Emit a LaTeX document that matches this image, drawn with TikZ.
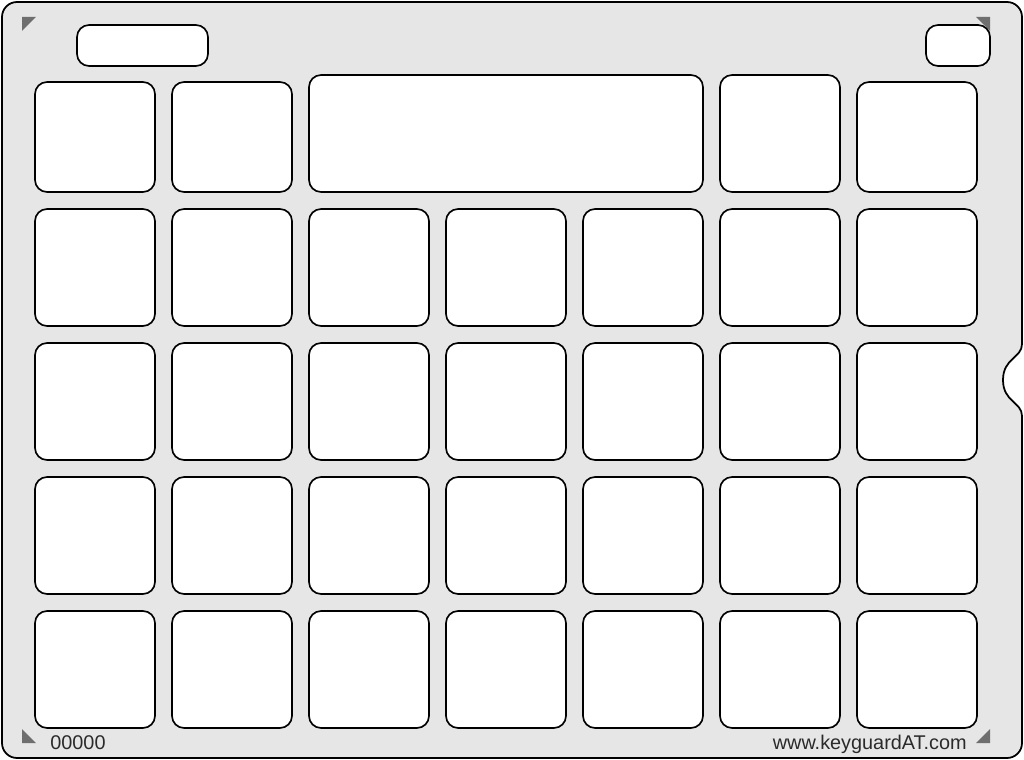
\documentclass[tikz,border=0pt]{standalone}
\usepackage{fontspec}
\setmainfont{Liberation Sans}
\definecolor{plate}{HTML}{E6E6E6}
\definecolor{tri}{HTML}{6E6E6E}
\definecolor{ink}{HTML}{2A2A2A}
\tikzset{
  keybox/.style={draw=black, fill=white, line width=0.95pt, rounded corners=0.24cm,
    minimum width=2.4cm, minimum height=2.34cm, inner sep=0pt},
  slot/.style={keybox, minimum height=0.82cm},
  label/.style={text=ink, font=\fontsize{11.3}{13}\selectfont, inner sep=0pt}
}
\begin{document}
\begin{tikzpicture}[x=0.02cm, y=-0.02cm]
  \useasboundingbox (0,0) rectangle (1024,760);
  % plate
  \draw[fill=plate, line width=1pt]
    (17,2) -- (1007,2) .. controls (1015.3,2) and (1022,8.7) .. (1022,17)
    -- (1022,344)
    .. controls (1022,358) and (1003,358) .. (1003,380)
    .. controls (1003,402) and (1022,402) .. (1022,416)
    -- (1022,743) .. controls (1022,751.3) and (1015.3,758) .. (1007,758)
    -- (17,758) .. controls (8.7,758) and (2,751.3) .. (2,743)
    -- (2,17) .. controls (2,8.7) and (8.7,2) .. (17,2) -- cycle;
  % corner marks
  \fill[tri] (22,17) -- (36,17) -- (22,31) -- cycle;
  \fill[tri] (976,17) -- (990,17) -- (990,31) -- cycle;
  \fill[tri] (22,729) -- (36,743) -- (22,743) -- cycle;
  \fill[tri] (990,729) -- (990,743) -- (976,743) -- cycle;
  % top slots
  \node[slot, minimum width=2.62cm] (sl) at (142.5,45.5) {};
  \node[slot, minimum width=1.28cm] (sr) at (958,45.5) {};
  % row 1
  \node[keybox, minimum height=2.2cm] (a1) at (95,137) {};
  \node[keybox, minimum height=2.2cm] (a2) at (232,137) {};
  \node[keybox, minimum width=7.88cm] (a3) at (506,133.5) {};
  \node[keybox] (a6) at (780,133.5) {};
  \node[keybox, minimum height=2.2cm] (a7) at (917,137) {};
  % row 2
  \node[keybox] (b1) at (95,267.5) {};
  \node[keybox] (b2) at (232,267.5) {};
  \node[keybox] (b3) at (369,267.5) {};
  \node[keybox] (b4) at (506,267.5) {};
  \node[keybox] (b5) at (643,267.5) {};
  \node[keybox] (b6) at (780,267.5) {};
  \node[keybox] (b7) at (917,267.5) {};
  % row 3
  \node[keybox] (c1) at (95,401.5) {};
  \node[keybox] (c2) at (232,401.5) {};
  \node[keybox] (c3) at (369,401.5) {};
  \node[keybox] (c4) at (506,401.5) {};
  \node[keybox] (c5) at (643,401.5) {};
  \node[keybox] (c6) at (780,401.5) {};
  \node[keybox] (c7) at (917,401.5) {};
  % row 4
  \node[keybox] (d1) at (95,535.5) {};
  \node[keybox] (d2) at (232,535.5) {};
  \node[keybox] (d3) at (369,535.5) {};
  \node[keybox] (d4) at (506,535.5) {};
  \node[keybox] (d5) at (643,535.5) {};
  \node[keybox] (d6) at (780,535.5) {};
  \node[keybox] (d7) at (917,535.5) {};
  % row 5
  \node[keybox] (e1) at (95,669.5) {};
  \node[keybox] (e2) at (232,669.5) {};
  \node[keybox] (e3) at (369,669.5) {};
  \node[keybox] (e4) at (506,669.5) {};
  \node[keybox] (e5) at (643,669.5) {};
  \node[keybox] (e6) at (780,669.5) {};
  \node[keybox] (e7) at (917,669.5) {};
  % footer
  \node[label, anchor=base west] (num) at (50,749) {00000};
  \node[label, anchor=base east] (web) at (967,749) {www.keyguardAT.com};
\end{tikzpicture}
\end{document}
